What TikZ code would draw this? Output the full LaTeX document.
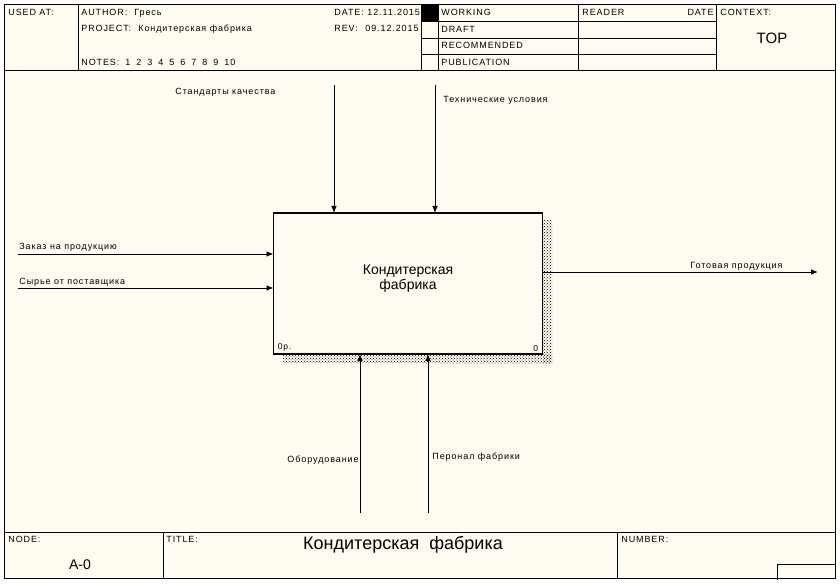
\documentclass[tikz,border=0pt]{standalone}
\usepackage{fontspec}
\setmainfont{Liberation Sans}
\newfontfamily\idefsmall[LetterSpace=10]{Liberation Sans}
\usetikzlibrary{positioning, arrows.meta, patterns}
\definecolor{paper}{RGB}{255,251,240}

\begin{document}
\begin{tikzpicture}[x=1pt,y=-1pt,line width=0.8pt,
  txt/.style={inner sep=0pt,anchor=base west,font=\idefsmall\fontsize{9}{10}\selectfont},
  arr/.style={-{Latex[length=7pt,width=5.5pt]}},
  act/.style={draw,line width=1.8pt,minimum width=269pt,minimum height=141pt,outer sep=0pt}]
\useasboundingbox (0,0) rectangle (840,585);
\fill[white] (0,0) rectangle (840,585);
\fill[paper] (4,4) rectangle (835,578);

% header
\draw (4,4) rectangle (835,578);
\draw (4,70) -- (835,70);
\foreach \x in {78,421,438,578,716} \draw (\x,4) -- (\x,70);
\foreach \y in {21,38,54} \draw (421,\y) -- (716,\y);
\fill (421,4) rectangle (438,21);
\node[txt] (usedat) at (8,16) {USED AT:};
\node[txt] (author) at (81,16) {\makebox[53pt][l]{AUTHOR:}Гресь};
\node[txt] (project) at (81,32) {\makebox[57pt][l]{PROJECT:}Кондитерская фабрика};
\node[txt] (notes) at (81,66) {\makebox[44pt][l]{NOTES:}1\hspace{6pt}2\hspace{6pt}3\hspace{6pt}4\hspace{6pt}5\hspace{6pt}6\hspace{6pt}7\hspace{6pt}8\hspace{6pt}9\hspace{6pt}10};
\node[txt] (date) at (334,16) {\makebox[33pt][l]{DATE:}12.11.2015};
\node[txt] (rev) at (334,32) {\makebox[31pt][l]{REV:}09.12.2015};
\node[txt] (working) at (441,16) {WORKING};
\node[txt] (draft) at (441,33) {DRAFT};
\node[txt] (recomm) at (441,49) {RECOMMENDED};
\node[txt] (public) at (441,66) {PUBLICATION};
\node[txt] (reader) at (582,16) {READER};
\node[txt,anchor=base east] (rdate) at (714,16) {DATE};
\node[txt] (context) at (720,16) {CONTEXT:};
\node[inner sep=0pt,anchor=base,font=\fontsize{15}{17}\selectfont] (top) at (772,44) {TOP};

% footer
\draw (4,532) -- (835,532);
\draw (163,532) -- (163,578);
\draw (617,532) -- (617,578);
\draw (777,580) -- (777,564) -- (835,564);
\node[txt] (nodelbl) at (8,542) {NODE:};
\node[inner sep=0pt,anchor=base,font=\fontsize{14}{16}\selectfont] (nodenum) at (80,569) {A-0};
\node[txt] (titlelbl) at (166,542) {TITLE:};
\node[inner sep=0pt,anchor=base,font=\fontsize{18}{20}\selectfont] (title) at (403,549) {Кондитерская\ \ фабрика};
\node[txt] (numberlbl) at (621,542) {NUMBER:};

% activity
\fill[pattern=crosshatch dots,pattern color=black] (543,220) rectangle (552,363);
\fill[pattern=crosshatch dots,pattern color=black] (283,354) rectangle (552,363);
\node[act,fill=paper] (fab) at (408,283.5) {};
\node[inner sep=0pt,align=center,font=\fontsize{14}{15}\selectfont,anchor=base] (fabname) at (408,289) {Кондитерская\\фабрика};
\node[txt,font=\idefsmall\fontsize{8.5}{9}\selectfont,anchor=south west,inner sep=1pt] (fabref) at ([xshift=3pt,yshift=1pt]fab.south west) {0р.};
\node[txt,font=\idefsmall\fontsize{8.5}{9}\selectfont,anchor=south east,inner sep=1pt] (fabnum) at ([xshift=-3pt,yshift=1pt]fab.south east) {0};

% arrows
\coordinate (std) at (334,85);
\coordinate (tech) at (435,85);
\coordinate (order) at (18,254);
\coordinate (raw) at (18,288);
\coordinate (prod) at (818,272);
\coordinate (equip) at (360,513);
\coordinate (staff) at (428,513);
\path[arr]
(std) edge (std |- fab.north)
(tech) edge (tech |- fab.north)
(order) edge (order -| fab.west)
(raw) edge (raw -| fab.west)
(prod -| fab.east) edge (prod)
(equip) edge (equip |- fab.south)
(staff) edge (staff |- fab.south);
\node[txt] (stdlbl) at (175,95) {Стандарты качества};
\node[txt] (techlbl) at (443,103) {Технические условия};
\node[txt] (orderlbl) at (19,250) {Заказ на продукцию};
\node[txt] (rawlbl) at (19,284) {Сырье от поставщика};
\node[txt] (prodlbl) at (690,269) {Готовая продукция};
\node[txt,anchor=base east] (equiplbl) at (359,462) {Оборудование};
\node[txt] (stafflbl) at (432,459) {Перонал фабрики};
\end{tikzpicture}
\end{document}
